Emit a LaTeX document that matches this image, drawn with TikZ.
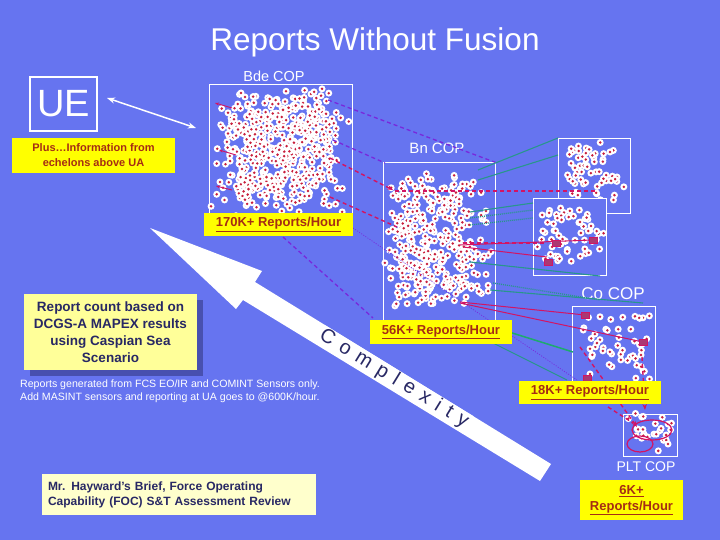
\documentclass[tikz,border=0pt]{standalone}
\usepackage{fontspec}
\setmainfont{Liberation Sans}
\usetikzlibrary{arrows.meta}
\definecolor{bg}{RGB}{102,116,240}
\definecolor{lab}{RGB}{165,45,20}
\definecolor{ylw}{RGB}{255,255,0}
\definecolor{lyel}{RGB}{255,255,153}
\definecolor{cream}{RGB}{255,255,204}
\definecolor{navy}{RGB}{40,40,100}
\definecolor{shad}{RGB}{72,80,175}
\definecolor{purp}{RGB}{120,40,220}
\definecolor{mag}{RGB}{210,20,100}
\definecolor{teal}{RGB}{40,150,140}
\definecolor{grn}{RGB}{30,170,110}
\definecolor{dotred}{RGB}{200,30,60}
\newcommand{\dotfield}[5]{%
\foreach \k in {1,...,#5}{%
 \pgfmathsetmacro{\qx}{#1+(0.7*rnd+0.15*(rnd+rnd))*(#3-#1)}%
 \pgfmathsetmacro{\qy}{#2+(0.7*rnd+0.15*(rnd+rnd))*(#4-#2)}%
 \fill[white] (\qx,\qy) circle[radius=3.5pt];
 \fill[dotred] (\qx,\qy) circle[radius=1.4pt];
}}
\begin{document}
\begin{tikzpicture}[x=1pt,y=-1pt,
  copbox/.style={draw=white, line width=0.8pt, inner sep=0pt, anchor=north west},
  coplab/.style={text=white, inner sep=0pt},
  ratelab/.style={fill=ylw, text=lab, inner sep=0pt, align=center,
     font=\bfseries\fontsize{13}{16}\selectfont},
  pdash/.style={purp, line width=1.3pt, dash pattern=on 4pt off 3pt},
  pdot/.style={purp, line width=0.7pt, dash pattern=on 1pt off 1.5pt},
  mdash/.style={mag, line width=1.4pt, dash pattern=on 4pt off 3pt},
  mline/.style={mag, line width=1pt},
  tline/.style={teal, line width=1.1pt},
  tdot/.style={teal, line width=1.3pt, dash pattern=on 1pt off 1pt},
  gline/.style={grn, line width=1.5pt},
  redsq/.style={draw=mag, fill=dotred!70!bg, line width=0.6pt, minimum width=8pt, minimum height=6pt, inner sep=0pt}
]
\fill[bg] (0,0) rectangle (720,540);
\useasboundingbox (0,0) rectangle (720,540);
\pgfmathsetseed{11}

% title
\node[text=white, font=\fontsize{31.5}{36}\selectfont] (title) at (375,42) {Reports Without Fusion};

% UE
\node[draw=white, line width=1.6pt, minimum width=67pt, minimum height=54pt, text=white,
      font=\fontsize{38}{40}\selectfont, inner sep=0pt] (ue) at (63.5,104) {UE};
\node[fill=ylw, text=lab, minimum width=163pt, minimum height=35pt, align=center, inner sep=0pt,
      font=\bfseries\fontsize{11}{15}\selectfont] (plus) at (93.5,155.5) {Plus\ldots Information from\\echelons above UA};

% COP boxes with dots
\node[copbox, minimum width=143pt, minimum height=132pt] (bde) at (209,84) {};
\dotfield{207}{80}{352}{220}{560}
\node[coplab, font=\fontsize{14.5}{16}\selectfont] (bdel) at (274,76) {Bde COP};

\node[copbox, minimum width=112pt, minimum height=160pt] (bn) at (383,162) {};
\dotfield{380}{160}{496}{322}{400}
\node[coplab, font=\fontsize{15}{17}\selectfont] (bnl) at (437,148) {Bn COP};

\node[copbox, minimum width=72pt, minimum height=75pt] (tr) at (558,138) {};
\dotfield{556}{136}{630}{212}{62}
\node[copbox, fill=bg, minimum width=73pt, minimum height=77pt] (sec) at (533,198) {};
\dotfield{531}{196}{606}{272}{62}

\node[copbox, minimum width=83pt, minimum height=82pt] (co) at (572,306) {};
\dotfield{570}{304}{657}{386}{52}
\node[coplab, font=\fontsize{17}{19}\selectfont] (col) at (613,294) {Co COP};

\node[copbox, minimum width=54pt, minimum height=42pt] (plt) at (623,414) {};
\dotfield{620}{408}{680}{456}{26}
\node[coplab, font=\fontsize{14}{16}\selectfont] (pltl) at (646,467) {PLT COP};

% endpoints
\coordinate (a1) at (328,100); \coordinate (b1) at (497,163);
\coordinate (a2) at (333,140); \coordinate (b2) at (385,163);
\coordinate (a3) at (283,237); \coordinate (b3) at (373,318);
\coordinate (a4) at (353,228); \coordinate (b4) at (577,380);
\coordinate (r1a) at (330,158); \coordinate (r1b) at (393,190);
\coordinate (r2a) at (330,197); \coordinate (r2b) at (397,227);
\coordinate (r3a) at (395,191); \coordinate (r3b) at (595,191);
\coordinate (r4a) at (463,243); \coordinate (r4b) at (547,243);
\coordinate (r5a) at (463,247); \coordinate (r5b) at (547,257);
\coordinate (r6a) at (460,245); \coordinate (r6b) at (593,240);
\coordinate (r7a) at (460,302); \coordinate (r7b) at (585,315);
\coordinate (r8a) at (460,303); \coordinate (r8b) at (643,342);
\coordinate (r9a) at (580,347); \coordinate (r9b) at (637,427);
\coordinate (r10a) at (642,357); \coordinate (r10b) at (645,410);
\coordinate (r11a) at (608,407); \coordinate (r11b) at (633,423);
\coordinate (t1a) at (478,170); \coordinate (t1b) at (558,138);
\coordinate (t2a) at (478,180); \coordinate (t2b) at (558,155);
\coordinate (t3a) at (470,212); \coordinate (t3b) at (533,203);
\coordinate (t4a) at (470,218); \coordinate (t4b) at (533,210);
\coordinate (t5a) at (470,225); \coordinate (t5b) at (533,218);
\coordinate (t6a) at (470,262); \coordinate (t6b) at (600,276);
\coordinate (t7a) at (493,283); \coordinate (t7b) at (600,300);
\coordinate (t8a) at (490,290); \coordinate (t8b) at (643,303);
\coordinate (t9a) at (493,327); \coordinate (t9b) at (573,352);
\coordinate (t10a) at (493,343); \coordinate (t10b) at (567,380);

% connectors
\draw[pdash] (a1) -- (b1);
\draw[pdash] (a2) -- (b2);
\draw[pdash] (a3) -- (b3);
\draw[pdot] (a4) -- (b4);
\draw[mdash, -{Stealth[length=6pt]}] (r1a) -- (r1b);
\draw[mdash] (r2a) -- (r2b);
\draw[mdash] (r3a) -- (r3b);
\draw[mdash] (r4a) -- (r4b);
\draw[mline] (r5a) -- (r5b);
\draw[mline] (r6a) -- (r6b);
\draw[mline] (r7a) -- (r7b);
\draw[mline] (r8a) -- (r8b);
\draw[mdash, -{Stealth[length=6pt]}] (r9a) -- (r9b);
\draw[mdash, -{Stealth[length=6pt]}] (r10a) -- (r10b);
\draw[mdash] (r11a) -- (r11b);
\draw[tline] (t1a) -- (t1b);
\draw[tline] (t2a) -- (t2b);
\draw[tline] (t3a) -- (t3b);
\draw[tdot] (t4a) -- (t4b);
\draw[tdot] (t5a) -- (t5b);
\draw[tline] (t6a) -- (t6b);
\draw[tdot] (t7a) -- (t7b);
\draw[tline] (t8a) -- (t8b);
\draw[gline] (t9a) -- (t9b);
\draw[tline] (t10a) -- (t10b);

% small red markers
\node[redsq] (sq1) at (585,315) {};
\node[redsq] (sq2) at (643,342) {};
\node[redsq] (sq3) at (587,378) {};
\node[redsq] (sq4) at (556,243) {};
\node[redsq] (sq5) at (548,262) {};
\node[redsq] (sq6) at (593,240) {};
\draw[mag, line width=1.2pt] (652,430) ellipse[x radius=20pt, y radius=10pt];
\draw[mag, line width=1.2pt] (640,444) ellipse[x radius=13pt, y radius=8pt];
\draw[mag, line width=0.9pt, -{Stealth[length=4pt]}] (232,108) -- (215,103);
\draw[mag, line width=0.9pt, -{Stealth[length=4pt]}] (236,155) -- (219,150);
\draw[mag, line width=0.9pt, -{Stealth[length=4pt]}] (232,190) -- (216,186);

% rate labels
\node[ratelab, minimum width=149pt, minimum height=23pt] (r170) at (278.5,224.5) {\underline{170K+ Reports/Hour}};
\node[ratelab, minimum width=142pt, minimum height=24pt] (r56) at (441,332) {\underline{56K+ Reports/Hour}};
\node[ratelab, minimum width=142pt, minimum height=23pt] (r18) at (590,392.5) {\underline{18K+ Reports/Hour}};
\node[ratelab, minimum width=103pt, minimum height=40pt] (r6) at (631.5,500) {\underline{6K+}\\\underline{Reports/Hour}};

% UE arrow
\coordinate (ueA) at (107,98); \coordinate (ueB) at (196,128);
\draw[white, line width=1.5pt, {Stealth[length=8pt]}-{Stealth[length=8pt]}] (ueA) -- (ueB);

% complexity arrow
\fill[white] (150,228) -- (262,271) -- (255,282) -- (551,464) -- (540,481) -- (243,300) -- (236,309) -- cycle;
\node[rotate=-31.5, fill=white, text=navy, inner xsep=2pt, inner ysep=0.5pt,
      font=\fontsize{20}{22}\selectfont\addfontfeature{LetterSpace=40}] (cx) at (394,379) {Complexity};

% notes
\fill[shad] (30,300) rectangle (203,376);
\node[fill=lyel, minimum width=173pt, minimum height=76pt, text=navy, align=center, inner sep=0pt,
      font=\bfseries\fontsize{13.5}{17}\selectfont] (rc) at (110.5,332) {Report count based on\\DCGS-A MAPEX results\\using Caspian Sea\\Scenario};
\node[text=white, anchor=north west, align=left, inner sep=0pt,
      font=\fontsize{10.6}{12.5}\selectfont] (gen) at (20,380) {Reports generated from FCS EO/IR and COMINT Sensors only.\\Add MASINT sensors and reporting at UA goes to @600K/hour.};
\node[fill=cream, minimum width=274pt, minimum height=41pt, text=navy, align=left, inner sep=0pt,
      font=\bfseries\fontsize{12}{15}\selectfont, text width=262pt] (hay) at (179,494.5) {Mr. Hayward’s Brief, Force Operating\\Capability (FOC) S\&T Assessment Review};
\end{tikzpicture}
\end{document}
